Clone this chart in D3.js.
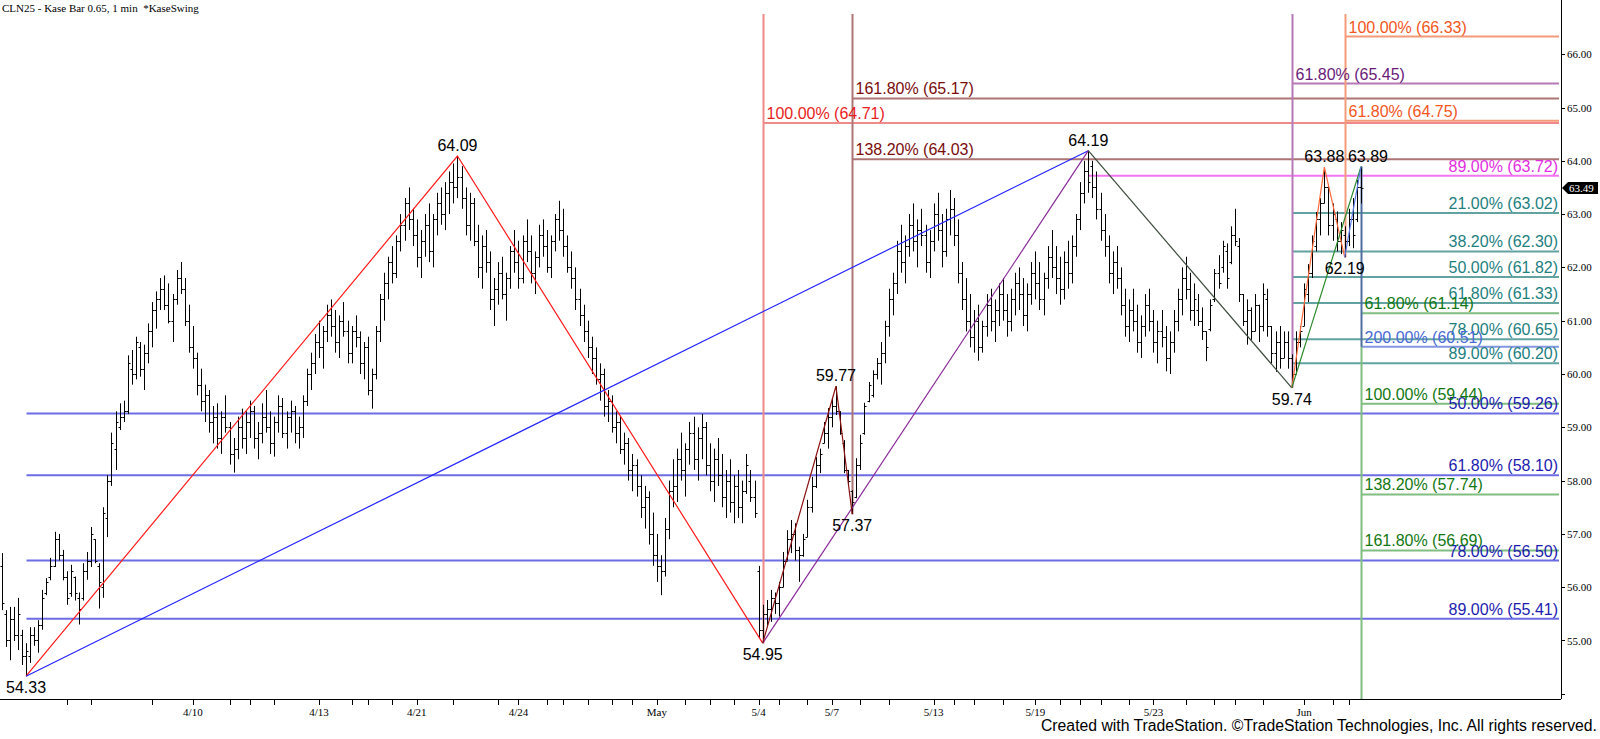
<!DOCTYPE html>
<html>
  <head>
    <meta charset="utf-8">
    <title>CLN25 - Kase Bar</title>
    <script src="https://cdn.jsdelivr.net/npm/d3@7/dist/d3.min.js"></script>
    <style>
      body { margin: 0; background: #fff; }
      text { font-family: "Liberation Sans", Arial, sans-serif; }
      .axisText { font-family: "Liberation Serif", "Times New Roman", serif; font-size: 11px; }
    </style>
  </head>
  <body>
    <svg width="1600" height="739" id="mainsvg" style="display: block"></svg>
    <script>
      // bars, one per Kase bar: [open, high, low, close]
      const ohlc = [
        [56.4,56.64,55.57,55.7],[55.5,55.57,54.88,55.0],[55.0,55.63,54.63,55.4],[55.4,55.63,54.99,55.1],
        [55.1,55.80,54.82,55.5],[55.1,55.20,54.54,54.7],[54.7,54.95,54.33,54.8],[54.7,55.25,54.58,55.1],
        [55.1,55.25,54.90,55.0],[55.0,55.38,54.77,55.3],[55.3,55.95,55.20,55.8],[55.9,56.17,55.85,56.1],
        [56.2,56.55,56.13,56.4],[56.4,57.04,56.38,56.9],[56.9,57.00,56.50,56.6],[56.6,56.70,56.13,56.2],
        [56.2,56.30,55.67,55.8],[55.9,56.42,55.82,56.3],[56.2,56.20,55.75,55.9],[55.8,55.90,55.30,55.6],
        [55.8,56.45,55.75,56.3],[56.3,56.66,56.14,56.5],[56.5,57.13,56.38,57.0],[56.9,56.90,56.45,56.5],
        [56.4,56.45,55.60,56.1],[56.0,57.50,55.80,57.4],[57.3,58.10,56.94,58.0],[58.0,58.90,57.90,58.7],
        [58.6,59.30,58.20,59.1],[59.0,59.45,58.95,59.2],[59.2,59.50,59.10,59.3],[59.3,60.35,59.25,60.2],
        [60.1,60.45,59.80,60.0],[60.0,60.70,59.90,60.6],[60.5,60.60,59.95,60.1],[60.1,60.55,59.70,60.4],
        [60.4,60.95,60.20,60.8],[60.8,61.35,60.50,61.2],[61.2,61.55,60.85,61.4],[61.4,61.80,61.20,61.6],
        [61.6,61.85,61.20,61.3],[61.3,61.70,60.95,61.0],[61.0,61.50,60.60,61.4],[61.4,61.95,61.30,61.8],
        [61.8,62.10,61.50,61.6],[61.6,61.80,60.90,61.0],[61.0,61.30,60.40,60.5],[60.5,60.90,60.10,60.3],
        [60.3,60.40,59.60,59.8],[59.8,60.10,59.30,59.5],[59.5,59.80,59.10,59.6],[59.6,59.70,58.90,59.1],
        [59.1,59.40,58.70,59.2],[59.2,59.45,58.60,58.8],[58.8,59.30,58.50,59.2],[59.2,59.60,58.90,59.0],
        [59.0,59.10,58.30,58.5],[58.5,58.80,58.15,58.6],[58.6,59.20,58.40,59.0],[59.0,59.35,58.60,58.8],
        [58.8,59.30,58.50,59.1],[59.1,59.50,58.80,59.3],[59.3,59.40,58.60,58.8],[58.8,59.10,58.40,58.9],
        [58.9,59.45,58.70,59.2],[59.2,59.70,58.90,59.0],[59.0,59.30,58.50,58.7],[58.7,59.20,58.45,59.1],
        [59.1,59.60,58.90,59.4],[59.4,59.55,58.80,58.9],[58.9,59.30,58.60,59.2],[59.2,59.50,58.90,59.3],
        [59.3,59.40,58.70,58.9],[58.9,59.20,58.60,59.0],[59.0,59.60,58.80,59.5],[59.5,60.10,59.40,60.0],
        [60.0,60.40,59.70,60.2],[60.2,60.75,60.00,60.6],[60.6,61.00,60.30,60.5],[60.5,60.90,60.10,60.8],
        [60.8,61.30,60.60,61.1],[61.1,61.40,60.70,60.9],[60.9,61.20,60.40,60.6],[60.6,61.10,60.30,61.0],
        [61.0,61.35,60.70,60.8],[60.8,61.00,60.20,60.4],[60.4,60.90,60.20,60.8],[60.8,61.10,60.50,60.7],
        [60.7,60.80,60.00,60.2],[60.2,60.60,59.90,60.5],[60.5,60.70,59.60,59.7],[59.7,60.10,59.35,60.0],
        [60.0,60.90,59.90,60.8],[60.8,61.50,60.60,61.4],[61.4,61.90,61.00,61.7],[61.7,62.20,61.40,62.1],
        [62.1,62.40,61.70,61.9],[61.9,62.60,61.80,62.5],[62.5,63.00,62.30,62.8],[62.8,63.30,62.50,63.2],
        [63.2,63.50,62.70,62.9],[62.9,63.10,62.40,62.6],[62.6,62.90,62.00,62.2],[62.2,62.70,61.80,62.5],
        [62.5,63.00,62.20,62.8],[62.8,63.20,62.10,62.3],[62.3,63.00,62.00,62.9],[62.9,63.40,62.60,63.2],
        [63.2,63.50,62.80,63.0],[63.0,63.60,62.70,63.4],[63.4,63.80,63.00,63.6],[63.6,63.95,63.20,63.5],
        [63.5,64.09,63.30,63.7],[63.7,63.90,63.10,63.3],[63.3,63.50,62.60,62.8],[62.8,63.40,62.50,63.2],
        [63.2,63.30,62.40,62.5],[62.5,62.80,61.80,62.0],[62.0,62.60,61.60,62.4],[62.4,62.70,61.90,62.1],
        [62.1,62.30,61.20,61.4],[61.4,61.80,60.90,61.6],[61.6,62.10,61.30,61.9],[61.9,62.20,61.40,61.5],
        [61.5,61.90,61.00,61.8],[61.8,62.40,61.60,62.3],[62.3,62.70,61.90,62.1],[62.1,62.50,61.60,61.8],
        [61.8,62.60,61.70,62.5],[62.5,62.90,62.10,62.3],[62.3,62.60,61.70,61.9],[61.9,62.30,61.50,62.2],
        [62.2,62.80,62.00,62.6],[62.6,62.90,62.20,62.4],[62.4,62.70,61.90,62.0],[62.0,62.60,61.80,62.5],
        [62.5,63.00,62.30,62.9],[62.9,63.25,62.50,62.7],[62.7,63.10,62.20,62.4],[62.4,62.60,61.90,62.0],
        [62.0,62.30,61.60,61.8],[61.8,62.00,61.20,61.4],[61.4,61.60,60.90,61.1],[61.1,61.30,60.60,60.8],
        [60.8,61.00,60.30,60.5],[60.5,60.70,60.00,60.3],[60.3,60.50,59.80,59.9],[59.9,60.20,59.50,60.0],
        [60.0,60.10,59.20,59.4],[59.4,59.70,59.10,59.5],[59.5,59.60,58.90,59.0],[59.0,59.30,58.70,59.1],
        [59.1,59.20,58.50,58.6],[58.6,58.90,58.30,58.7],[58.7,58.80,58.00,58.2],[58.2,58.50,57.80,58.3],
        [58.3,58.40,57.70,57.9],[57.9,58.10,57.30,57.5],[57.5,57.90,57.10,57.7],[57.7,57.80,56.80,57.0],
        [57.0,57.40,56.40,56.6],[56.6,57.00,56.10,56.4],[56.4,56.60,55.85,56.3],[56.3,57.30,56.20,57.1],
        [57.1,58.00,56.90,57.8],[57.8,58.40,57.50,57.9],[57.9,58.60,57.60,58.4],[58.4,58.90,58.00,58.2],
        [58.2,58.70,57.70,58.6],[58.6,59.10,58.30,58.9],[58.9,59.20,58.20,58.4],[58.4,59.00,58.00,58.8],
        [58.8,59.25,58.40,59.0],[59.0,59.10,58.10,58.3],[58.3,58.70,57.80,58.0],[58.0,58.60,57.60,58.4],
        [58.4,58.80,57.90,58.1],[58.1,58.50,57.50,57.7],[57.7,58.20,57.30,58.0],[58.0,58.40,57.40,57.6],
        [57.6,58.10,57.20,57.9],[57.9,58.20,57.30,57.5],[57.5,58.00,57.20,57.8],[57.8,58.50,57.75,58.3],
        [58.0,58.20,57.60,57.7],[57.7,58.00,57.30,57.4],[56.3,56.40,55.05,55.2],[55.2,55.67,54.95,55.5],
        [55.5,55.76,55.25,55.6],[55.6,55.95,55.35,55.8],[55.8,55.90,55.50,55.7],[55.7,56.10,55.45,56.0],
        [56.0,56.66,56.00,56.5],[56.5,57.07,56.50,56.9],[56.9,57.26,56.64,57.0],[57.0,57.20,56.50,56.7],
        [56.7,56.76,56.10,56.6],[56.6,57.00,56.57,56.9],[56.95,57.64,56.94,57.5],[57.5,58.07,57.40,57.9],
        [57.9,58.44,57.86,58.3],[58.3,58.60,58.14,58.5],[58.7,59.10,58.70,58.9],[58.9,59.36,58.60,59.2],
        [59.2,59.55,59.00,59.4],[59.4,59.77,59.23,59.3],[59.3,59.30,58.86,58.9],[58.7,58.76,58.14,58.2],
        [58.2,58.20,57.90,58.0],[57.8,57.82,57.37,57.6],[57.7,58.42,57.67,58.3],[58.3,58.86,58.20,58.7],
        [58.9,59.46,58.86,59.4],[59.5,59.85,59.47,59.8],[59.6,60.07,59.56,60.0],[60.0,60.30,59.90,60.2],
        [60.2,60.60,59.80,60.4],[60.4,61.00,60.20,60.9],[60.9,61.60,60.70,61.4],[61.4,61.90,61.10,61.7],
        [61.7,62.50,61.50,62.3],[62.3,62.80,61.90,62.1],[62.1,62.60,61.70,62.4],[62.4,63.00,62.20,62.8],
        [62.8,63.20,62.30,62.5],[62.5,62.90,62.00,62.7],[62.7,63.10,62.40,62.6],[62.6,62.80,61.90,62.1],
        [62.1,62.70,61.80,62.5],[62.5,63.20,62.30,63.0],[63.0,63.40,62.50,62.7],[62.7,63.00,62.00,62.3],
        [62.3,63.10,62.20,62.9],[62.9,63.45,62.60,63.1],[63.1,63.30,62.40,62.6],[62.6,62.90,61.70,61.9],
        [61.9,62.10,61.20,61.4],[61.4,61.80,60.80,61.0],[61.0,61.50,60.50,60.7],[60.7,61.20,60.40,61.0],
        [61.0,61.30,60.25,60.5],[60.5,61.00,60.40,60.9],[60.9,61.50,60.70,61.3],[61.3,61.60,60.80,61.0],
        [61.0,61.40,60.60,61.2],[61.2,61.70,60.90,61.5],[61.5,61.80,61.00,61.2],[61.2,61.50,60.70,61.0],
        [61.0,61.60,60.80,61.4],[61.4,61.90,61.10,61.7],[61.7,62.00,61.20,61.5],[61.5,61.80,60.90,61.1],
        [61.1,61.70,60.80,61.5],[61.5,62.10,61.30,61.9],[61.9,62.30,61.40,61.7],[61.7,62.10,61.20,61.4],
        [61.4,61.90,61.10,61.8],[61.8,62.40,61.60,62.2],[62.2,62.70,61.80,62.0],[62.0,62.40,61.50,61.8],
        [61.8,62.20,61.30,61.6],[61.6,62.30,61.40,62.1],[62.1,62.50,61.60,61.9],[61.9,62.60,61.70,62.4],
        [62.4,63.00,62.20,62.9],[62.9,63.60,62.70,63.4],[63.4,64.00,63.20,63.8],[63.8,64.19,63.40,63.6],
        [63.9,64.00,63.30,63.5],[63.5,63.80,62.90,63.1],[63.1,63.40,62.50,62.7],[62.7,63.00,62.20,62.4],
        [62.4,62.60,61.70,61.9],[61.9,62.30,61.50,62.1],[62.1,62.40,61.60,61.8],[61.8,62.00,61.10,61.3],
        [61.3,61.60,60.70,60.9],[60.9,61.40,60.60,61.2],[61.2,61.60,60.80,61.0],[61.0,61.30,60.40,60.6],
        [60.6,61.10,60.30,60.9],[60.9,61.50,60.70,61.3],[61.3,61.60,60.80,61.0],[61.0,61.20,60.40,60.6],
        [60.6,61.00,60.20,60.8],[60.8,61.20,60.50,60.7],[60.7,60.90,60.05,60.3],[60.3,60.80,60.00,60.6],
        [60.6,61.20,60.40,61.0],[61.0,61.60,60.80,61.4],[61.4,62.00,61.10,61.8],[61.8,62.20,61.40,61.6],
        [61.6,61.90,61.00,61.2],[61.2,61.70,60.90,61.4],[61.2,61.50,60.90,61.0],[61.0,61.25,60.64,60.8],
        [60.8,60.80,60.24,60.5],[60.85,61.40,60.80,61.3],[61.4,61.97,61.35,61.9],[61.9,62.23,61.60,61.7],
        [62.0,62.50,61.90,62.4],[62.3,62.45,61.60,61.8],[62.1,62.77,62.06,62.6],[62.6,63.10,62.40,62.5],
        [62.4,62.55,61.35,61.5],[61.5,61.50,60.90,61.0],[61.0,61.40,60.55,61.2],[61.2,61.25,60.64,60.8],
        [60.8,61.50,60.80,61.3],[61.3,61.30,60.60,60.9],[60.9,61.70,60.80,61.5],[61.4,61.60,60.70,60.9],
        [60.9,60.90,60.20,60.4],[60.4,60.80,60.04,60.6],[60.6,60.90,60.10,60.3],[60.3,60.80,60.30,60.6],
        [60.6,60.80,60.10,60.3],[60.3,60.37,59.74,60.0],[60.0,60.80,60.00,60.6],[60.6,60.90,60.50,60.8],
        [60.9,61.70,60.90,61.6],[61.5,62.06,61.35,61.9],[61.9,62.60,61.80,62.5],[62.4,63.04,62.30,62.9],
        [62.9,63.30,62.60,63.2],[63.2,63.88,63.20,63.5],[63.5,63.56,62.60,62.8],[62.8,63.20,62.50,63.0],
        [62.9,63.05,62.30,62.5],[62.5,62.85,62.25,62.7],[62.6,62.77,62.19,62.5],[62.5,63.10,62.40,62.9],
        [62.9,63.30,62.36,62.6],[62.9,63.64,62.85,63.5],[63.5,63.89,63.20,63.49]
      ];

      // swing points: bar index, price, which side the label goes, label nudge
      const swings = [
        [6, 54.33, "low", 0], [112, 64.09, "high", 0], [187, 54.95, "low", 0], [205, 59.77, "high", 0],
        [209, 57.37, "low", 0], [267, 64.19, "high", 0], [317, 59.74, "low", 0], [325, 63.88, "high", 0],
        [330, 62.19, "low", 0], [334, 63.89, "high", 7]
      ];
      const swingPrice = new Map(swings.map((s) => [s[0], s[1]]));

      // swing lines (by bar index of the swing points)
      const swingLines = [
        { pts: [6, 112, 187], color: "#ff1a1a" },
        { pts: [6, 267], color: "#2424ff" },
        { pts: [187, 267], color: "#8a2a9a" },
        { pts: [187, 205, 209], color: "#8b1010" },
        { pts: [267, 317], color: "#3c4a3c" },
        { pts: [317, 325, 330], color: "#ff6a3a" },
        { pts: [317, 334], color: "#2a8a2a" },
        { pts: [330, 334], color: "#5a7ae6" }
      ];

      // fib levels: [label, price]
      const blueLevels = [["50.00%", 59.26], ["61.80%", 58.10], ["78.00%", 56.50], ["89.00%", 55.41]];
      const redLevels = [["100.00%", 64.71]];
      const maroonLevels = [["161.80%", 65.17], ["138.20%", 64.03]];
      const magentaLevels = [["89.00%", 63.72]];
      const purpleLevels = [["61.80%", 65.45]];
      const tealLevels = [["21.00%", 63.02], ["38.20%", 62.30], ["50.00%", 61.82], ["61.80%", 61.33], ["78.00%", 60.65], ["89.00%", 60.20]];
      const orangeLevels = [["100.00%", 66.33], ["61.80%", 64.75]];
      const greenLevels = [["61.80%", 61.14], ["100.00%", 59.44], ["138.20%", 57.74], ["161.80%", 56.69]];
      const steelLevels = [["200.00%", 60.51]];

      // date ticks (bar index) and labels
      const dateTicks = [16, 22, 37, 47, 56, 61, 67, 78, 86, 90, 96, 102, 111, 122, 127, 134, 138, 144, 150, 155,
        161, 168, 174, 180, 186, 191, 198, 204, 211, 218, 229, 234, 239, 246, 254, 260, 265, 270, 277, 283,
        291, 298, 303, 310, 320, 327, 331];
      const dateLabels = { 47: "4/10", 78: "4/13", 102: "4/21", 127: "4/24", 161: "May", 186: "5/4",
        204: "5/7", 229: "5/13", 254: "5/19", 283: "5/23", 320: "Jun" };
      const priceTicks = [54, 55, 56, 57, 58, 59, 60, 61, 62, 63, 64, 65, 66];
      const lastPrice = 63.49;

      const svg = d3.select("#mainsvg");
      const axisX = 1561, axisY = 699, topY = 14;

      const x = d3.scaleLinear().domain([0, ohlc.length - 1]).range([1.6, 1361]);
      const y = d3.scaleLinear().domain([54, 66]).range([693.8, 54.2]);
      const px = (i) => Math.round(x(i)) + 0.5;

      const gFib = svg.append("g");
      const gBars = svg.append("g");
      const gSwing = svg.append("g");
      const gText = svg.append("g");

      // fib groups: where the line starts and how the label is placed
      const fibGroups = [
        { levels: blueLevels, from: 6, align: "end", line: "#6c6ce4", text: "#1c1cb0" },
        { levels: redLevels, from: 187, align: "start", line: "#f08a8a", text: "#e81c1c" },
        { levels: maroonLevels, from: 209, align: "start", line: "#ad7474", text: "#7a0c0c" },
        { levels: magentaLevels, from: 267, align: "end", line: "#f373f3", text: "#e22ee2" },
        { levels: purpleLevels, from: 317, align: "start", line: "#b57ab5", text: "#6a1a7a" },
        { levels: tealLevels, from: 317, align: "end", line: "#62a2a2", text: "#1e7f7f" },
        { levels: orangeLevels, from: 330, align: "start", line: "#f59a78", text: "#f2561c" },
        { levels: greenLevels, from: 334, align: "start", line: "#80bd80", text: "#127712" },
        { levels: steelLevels, from: 334, align: "start", line: "#8496e2", text: "#4a6ad6" }
      ];

      fibGroups.forEach((grp) => {
        gFib.selectAll(null)
          .data(grp.levels)
          .join("line")
          .attr("x1", px(grp.from)).attr("x2", axisX - 2)
          .attr("y1", (d) => y(d[1])).attr("y2", (d) => y(d[1]))
          .attr("stroke", grp.line).attr("stroke-width", 2);
        gText.selectAll(null)
          .data(grp.levels)
          .join("text")
          .attr("x", grp.align === "end" ? axisX - 3 : px(grp.from) + 3)
          .attr("y", (d) => y(d[1]) - 4)
          .attr("text-anchor", grp.align)
          .attr("fill", grp.text)
          .attr("font-size", "16px")
          .text((d) => `${d[0]} (${d[1].toFixed(2)})`);
      });

      // vertical markers at swing points
      const verticals = [
        { at: 187, y1: topY, y2: y(54.95), color: "#f08a8a" },
        { at: 209, y1: topY, y2: y(57.37), color: "#ad7474" },
        { at: 317, y1: topY, y2: y(59.74), color: "#b57ab5" },
        { at: 330, y1: topY, y2: y(62.19), color: "#f59a78" },
        { at: 334, y1: y(60.51), y2: axisY, color: "#80bd80" },
        { at: 334, y1: y(63.89), y2: y(60.51), color: "#4f6fa0" }
      ];
      gFib.selectAll(".vline")
        .data(verticals)
        .join("line")
        .attr("class", "vline")
        .attr("x1", (d) => px(d.at)).attr("x2", (d) => px(d.at))
        .attr("y1", (d) => d.y1).attr("y2", (d) => d.y2)
        .attr("stroke", (d) => d.color).attr("stroke-width", 2);

      // OHLC bars
      gBars.selectAll("path")
        .data(ohlc)
        .join("path")
        .attr("d", (d, i) => {
          const cx = px(i);
          return `M${cx},${y(d[1])}V${y(d[2])}M${cx - 2},${Math.round(y(d[0])) + 0.5}H${cx}M${cx},${Math.round(y(d[3])) + 0.5}H${cx + 2}`;
        })
        .attr("fill", "none")
        .attr("stroke", "#000")
        .attr("stroke-width", 1);

      // swing lines
      const line = d3.line().x((i) => x(i)).y((i) => y(swingPrice.get(i)));
      gSwing.selectAll("path")
        .data(swingLines)
        .join("path")
        .attr("d", (d) => line(d.pts))
        .attr("fill", "none")
        .attr("stroke", (d) => d.color)
        .attr("stroke-width", 1.2);

      // swing labels
      gText.selectAll(".swingLabel")
        .data(swings)
        .join("text")
        .attr("class", "swingLabel")
        .attr("x", (d) => x(d[0]) + d[3])
        .attr("y", (d) => (d[2] === "high" ? y(d[1]) - 5 : y(d[1]) + 17))
        .attr("text-anchor", "middle")
        .attr("font-size", "16px")
        .attr("fill", "#000")
        .text((d) => d[1].toFixed(2));

      // axes
      svg.append("line").attr("x1", 0).attr("x2", axisX).attr("y1", axisY + 0.5).attr("y2", axisY + 0.5)
        .attr("stroke", "#000").attr("stroke-width", 1);
      svg.append("line").attr("x1", axisX + 0.5).attr("x2", axisX + 0.5).attr("y1", 0).attr("y2", axisY)
        .attr("stroke", "#000").attr("stroke-width", 1);

      svg.selectAll(".ytick")
        .data(priceTicks)
        .join("line")
        .attr("class", "ytick")
        .attr("x1", axisX).attr("x2", axisX + 4)
        .attr("y1", (d) => Math.round(y(d)) + 0.5).attr("y2", (d) => Math.round(y(d)) + 0.5)
        .attr("stroke", "#000");
      svg.selectAll(".ylabel")
        .data(priceTicks.filter((d) => d > 54))
        .join("text")
        .attr("class", "ylabel axisText")
        .attr("x", axisX + 6)
        .attr("y", (d) => y(d) + 4)
        .text((d) => d.toFixed(2));

      svg.selectAll(".xtick")
        .data(dateTicks)
        .join("line")
        .attr("class", "xtick")
        .attr("x1", (d) => px(d)).attr("x2", (d) => px(d))
        .attr("y1", axisY).attr("y2", axisY + 6)
        .attr("stroke", "#000");
      svg.selectAll(".xlabel")
        .data(dateTicks.filter((d) => dateLabels[d]))
        .join("text")
        .attr("class", "xlabel axisText")
        .attr("x", (d) => x(d))
        .attr("y", 716)
        .attr("text-anchor", "middle")
        .text((d) => dateLabels[d]);

      // last price tag
      const ly = Math.round(y(lastPrice));
      svg.append("path")
        .attr("d", `M${axisX + 1},${ly} L${axisX + 7},${ly - 6} H1598 V${ly + 6} H${axisX + 7} Z`)
        .attr("fill", "#000");
      svg.append("text")
        .attr("class", "axisText")
        .attr("x", axisX + 8).attr("y", ly + 4)
        .attr("fill", "#fff")
        .text(lastPrice.toFixed(2));

      // title and footer
      svg.append("text")
        .attr("class", "axisText")
        .attr("x", 2).attr("y", 12)
        .attr("font-size", "12px")
        .attr("xml:space", "preserve")
        .text("CLN25 - Kase Bar 0.65, 1 min  *KaseSwing");
      svg.append("text")
        .attr("x", 1597).attr("y", 731)
        .attr("text-anchor", "end")
        .attr("font-size", "16px")
        .attr("textLength", 556)
        .attr("lengthAdjust", "spacingAndGlyphs")
        .text("Created with TradeStation. ©TradeStation Technologies, Inc. All rights reserved.");
    </script>
  </body>
</html>
